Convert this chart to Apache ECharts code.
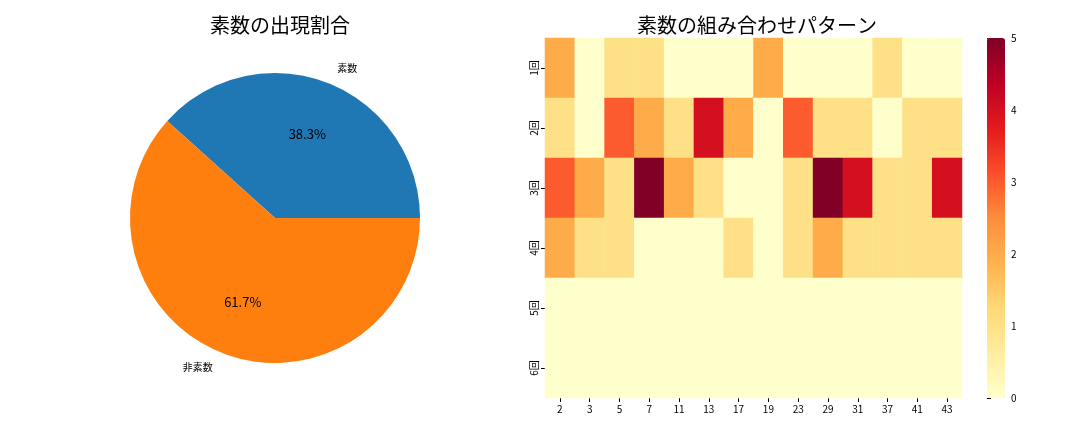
<!DOCTYPE html>
<html>
<head>
<meta charset="utf-8">
<script src="https://cdn.jsdelivr.net/npm/echarts@6/dist/echarts.min.js"></script>
<style>
  html, body { margin: 0; padding: 0; background: #fff; }
  #main { width: 1080px; height: 432px; }
</style>
</head>
<body>
<div id="main"></div>
<script>
var FONT = '"Noto Sans CJK JP", "DejaVu Sans", sans-serif';

// pie
var pieNames = ['素数', '非素数'];
var pieValues = [23, 37];
var pieColors = ['#1f77b4', '#ff7f0e'];

// heatmap
var primes = ['2', '3', '5', '7', '11', '13', '17', '19', '23', '29', '31', '37', '41', '43'];
var rounds = ['1回', '2回', '3回', '4回', '5回', '6回'];
var round1 = [2, 0, 1, 1, 0, 0, 0, 2, 0, 0, 0, 1, 0, 0];
var round2 = [1, 0, 3, 2, 1, 4, 2, 0, 3, 1, 1, 0, 1, 1];
var round3 = [3, 2, 1, 5, 2, 1, 0, 0, 1, 5, 4, 1, 1, 4];
var round4 = [2, 1, 1, 0, 0, 0, 1, 0, 1, 2, 1, 1, 1, 1];
var round5 = [0, 0, 0, 0, 0, 0, 0, 0, 0, 0, 0, 0, 0, 0];
var round6 = [0, 0, 0, 0, 0, 0, 0, 0, 0, 0, 0, 0, 0, 0];
var colorTicks = [0, 1, 2, 3, 4, 5];

var ylOrRd = ['#ffffcc', '#ffeda0', '#fed976', '#feb24c', '#fd8d3c', '#fc4e2a', '#e31a1c', '#bd0026', '#800026'];

var heatRows = [round1, round2, round3, round4, round5, round6];
var heatData = [];
heatRows.forEach(function (row, r) {
    row.forEach(function (v, c) {
        heatData.push([c, r, v]);
    });
});

var pieData = pieNames.map(function (n, i) {
    return { name: n, value: pieValues[i], itemStyle: { color: pieColors[i] } };
});

var chart = echarts.init(document.getElementById('main'), null, { renderer: 'canvas' });

var option = {
    animation: false,
    textStyle: { fontFamily: FONT },
    title: [
        { text: '素数の出現割合', left: 275, top: 10, textAlign: 'center',
          textStyle: { fontFamily: FONT, fontSize: 20, fontWeight: 'normal', color: '#000' } },
        { text: '素数の組み合わせパターン', left: 752, top: 10, textAlign: 'center',
          textStyle: { fontFamily: FONT, fontSize: 20, fontWeight: 'normal', color: '#000' } }
    ],
    grid: [
        { left: 545, top: 38, width: 417, height: 360 },
        { left: 987, top: 38, width: 18, height: 360 }
    ],
    xAxis: [
        { type: 'category', gridIndex: 0, data: primes, position: 'bottom',
          axisLine: { show: false },
          axisTick: { show: true, length: 4, alignWithLabel: true, lineStyle: { color: '#000' } },
          axisLabel: { fontSize: 10, color: '#000', margin: 6, fontFamily: FONT },
          splitLine: { show: false } },
        { type: 'value', gridIndex: 1, show: false, min: 0, max: 1 }
    ],
    yAxis: [
        { type: 'category', gridIndex: 0, data: rounds, inverse: true,
          axisLine: { show: false },
          axisTick: { show: true, length: 4, alignWithLabel: true, lineStyle: { color: '#000' } },
          axisLabel: { fontSize: 10, color: '#000', rotate: 90, margin: 6, fontFamily: FONT },
          splitLine: { show: false } },
        { type: 'value', gridIndex: 1, position: 'right', min: 0, max: 5, interval: 1,
          axisLine: { show: false },
          axisTick: { show: true, length: 4, lineStyle: { color: '#000' } },
          axisLabel: { fontSize: 10, color: '#000', margin: 6, fontFamily: FONT,
                       formatter: function (v) { return colorTicks.indexOf(v) >= 0 ? String(v) : ''; } },
          splitLine: { show: false } }
    ],
    visualMap: {
        type: 'continuous', min: 0, max: 5, seriesIndex: 2,
        left: 987, top: 38, itemWidth: 18, itemHeight: 360, padding: 0,
        calculable: false, text: ['', ''], showLabel: false, hoverLink: false,
        inRange: { color: ylOrRd }
    },
    series: [
        {
            type: 'pie', center: [275, 218], radius: 145,
            startAngle: 0, clockwise: false, silent: true,
            data: pieData,
            label: { show: true, position: 'outside', fontSize: 10, color: '#000', fontFamily: FONT,
                     formatter: '{b}', alignTo: 'none' },
            labelLine: { show: false, length: 15, length2: 0 },
            avoidLabelOverlap: false
        },
        {
            type: 'pie', center: [275, 218], radius: [29, 145],
            startAngle: 0, clockwise: false, silent: true, percentPrecision: 1,
            data: pieNames.map(function (n, i) {
                return { name: n, value: pieValues[i], itemStyle: { color: 'rgba(0,0,0,0)' } };
            }),
            label: { show: true, position: 'inside', fontSize: 13, color: '#000', fontFamily: FONT,
                     formatter: '{d}%' },
            labelLine: { show: false }
        },
        {
            type: 'heatmap', xAxisIndex: 0, yAxisIndex: 0,
            data: heatData,
            itemStyle: { borderWidth: 0 },
            emphasis: { disabled: true }
        }
    ]
};

chart.setOption(option);
</script>
</body>
</html>
